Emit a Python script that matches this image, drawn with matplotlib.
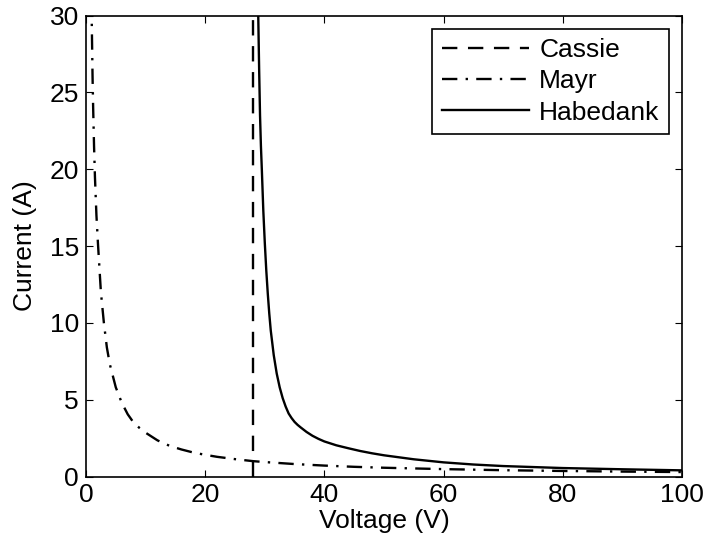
import matplotlib
matplotlib.use("Agg")
import matplotlib.pyplot as plt

# Values
cassie_v = [28.0, 28.0]
cassie_i = [0.0, 31.0]

mayr_v = [0.9, 0.95, 1.1, 1.2, 1.35, 1.5, 1.75, 2.0, 2.5, 3.0, 3.5, 4.0, 5.0, 6.0, 7.0,
          8.0, 9.0, 10.0, 12.0, 14.0, 16.0, 18.0, 20.0, 22.0, 25.0, 28.0, 30.0, 35.0,
          40.0, 45.0, 50.0, 60.0, 70.0, 80.0, 90.0, 100.0]
mayr_i = [31.0, 30.0, 26.0, 24.0, 21.5, 19.5, 17.0, 15.2, 12.0, 10.0, 8.4, 7.3, 5.8,
          4.8, 4.05, 3.5, 3.15, 2.85, 2.35, 2.0, 1.76, 1.56, 1.41, 1.28, 1.13, 1.0,
          0.94, 0.81, 0.71, 0.63, 0.57, 0.48, 0.41, 0.36, 0.32, 0.29]

hab_v = [28.85, 28.9, 29.05, 29.2, 29.35, 29.5, 29.75, 30.0, 30.25, 30.5, 30.75, 31.0,
         31.5, 32.0, 32.5, 33.0, 33.5, 34.0, 34.5, 35.0, 35.5, 36.0, 37.0, 38.0, 39.0,
         40.0, 42.0, 44.0, 46.0, 48.0, 50.0, 55.0, 60.0, 65.0, 70.0, 80.0, 90.0, 100.0]
hab_i = [31.0, 30.0, 26.5, 23.5, 21.5, 20.0, 17.3, 15.2, 13.4, 11.9, 10.6, 9.5,
         7.9, 6.7, 5.8, 5.1, 4.55, 4.1, 3.8, 3.55, 3.36, 3.2, 2.9, 2.65, 2.45,
         2.28, 2.03, 1.84, 1.66, 1.51, 1.38, 1.12, 0.92, 0.78, 0.68, 0.55, 0.47, 0.40]

labels = ["Cassie", "Mayr", "Habedank"]
x_ticks = [0, 20, 40, 60, 80, 100]
y_ticks = [0, 5, 10, 15, 20, 25, 30]

plt.rcParams['font.family'] = ['Liberation Sans', 'DejaVu Sans']
FS = 19

fig = plt.figure(figsize=(7.05, 5.51), dpi=100)
ax = fig.add_axes([86/705, 1 - 476.5/551, (682-86)/705, (476.5-15.5)/551])

lw = 1.7
ax.plot(cassie_v, cassie_i, color='black', lw=lw, ls=(0, (6.5, 4.5)), label=labels[0])
ax.plot(mayr_v, mayr_i, color='black', lw=lw, ls=(0, (6.5, 3.5, 1, 3.5)), label=labels[1])
ax.plot(hab_v, hab_i, color='black', lw=lw, ls='-', label=labels[2])

ax.set_xlim(0, 100)
ax.set_ylim(0, 30)
ax.set_xticks(x_ticks)
ax.set_yticks(y_ticks)
ax.tick_params(direction='in', top=True, right=True, length=5, width=0.8,
               labelsize=FS, pad=5)
for s in ax.spines.values():
    s.set_linewidth(1.2)

ax.set_xlabel("Voltage (V)", fontsize=FS, labelpad=1)
ax.set_ylabel("Current (A)", fontsize=FS, labelpad=9)

leg = ax.legend(loc='upper right', fontsize=FS, frameon=True, fancybox=False,
                edgecolor='black', framealpha=1, handlelength=3.3, handletextpad=0.4,
                borderpad=0.35, labelspacing=0.28, borderaxespad=0.5)
leg.get_frame().set_linewidth(1.2)

fig.savefig("out.png", dpi=100)
